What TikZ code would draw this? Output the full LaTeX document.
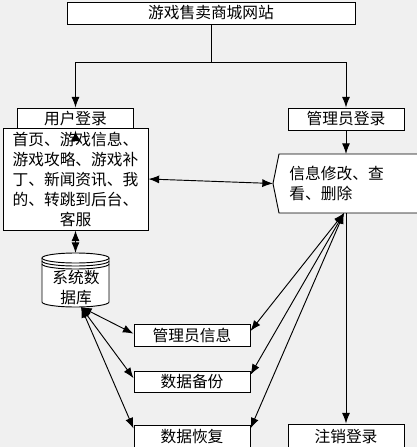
\documentclass[tikz,border=0pt]{standalone}
\usepackage{fontspec}
\setmainfont{Noto Sans CJK SC}
\usetikzlibrary{arrows.meta}
\definecolor{bggray}{RGB}{240,240,240}

\begin{document}
\begin{tikzpicture}
   [x=0.75pt,y=-0.75pt,line width=0.7pt,
   every node/.style={inner sep=0pt,font=\fontsize{11.8}{15}\selectfont},
   box/.style={draw,fill=white,minimum width=87pt,minimum height=16.5pt},
   arr/.style={-{Latex[length=8pt,width=6pt]}},
   darr/.style={{Latex[length=8pt,width=6pt]}-{Latex[length=8pt,width=6pt]}}]

   \fill[bggray] (0,0) rectangle (417,447);
   \useasboundingbox (0,0) rectangle (417,447);

   \node[box,minimum width=216pt] (site)   at (211,13)  {游戏售卖商城网站};
   \node[box]                     (ulogin) at (75.5,119) {用户登录};
   \node[box]                     (alogin) at (346,119) {管理员登录};

   \node[draw,fill=white,minimum width=108.75pt,minimum height=76.5pt,
         text width=96pt,align=center] (home) at (75.5,179)
         {首页、游戏信息、\\游戏攻略、游戏补\\丁、新闻资讯、我\\的、转跳到后台、\\客服};

   % info shape, open to the right
   \draw[fill=white] (440,154) -- (279,154) -- (273,183.5) -- (279,213) -- (440,213);
   \node[anchor=west,align=left] (info) at (289,183) {信息修改、查\\看、删除};
   \coordinate (infoL)  at (273,183.5);
   \coordinate (infoT)  at (346,154);
   \coordinate (infoB)  at (346,213);
   \coordinate (infoBL) at (344,213);

   % database
   \draw[fill=white] (42,258) -- (42,302)
      arc[start angle=180,end angle=0,x radius=33.5,y radius=5] -- (109,258);
   \draw[fill=white] (75.5,258) ellipse[x radius=33.5,y radius=5];
   \draw (42,261) arc[start angle=180,end angle=0,x radius=33.5,y radius=5];
   \draw (42,264) arc[start angle=180,end angle=0,x radius=33.5,y radius=5];
   \node[align=center] (db) at (76,288) {系统数\\据库};
   \coordinate (dbtop) at (75.5,253);
   \coordinate (dbbot) at (81,307);

   \node[box]                      (adinfo)  at (192,335)   {管理员信息};
   \node[box,minimum height=15.75pt] (backup) at (192,381.5) {数据备份};
   \node[box,minimum height=18pt]  (restore) at (192,437)   {数据恢复};
   \node[box,minimum height=18pt]  (logout)  at (346,436)   {注销登录};

   \coordinate (split) at (211,62);
   \draw (site.south) -- (split);
   \draw[arr] (split) -| (ulogin.north);
   \draw[arr] (split) -| (alogin.north);

   \draw[arr] ([yshift=-6pt]home.north) -- (ulogin.south);
   \draw[darr] (home.east) -- (infoL);
   \draw[darr] (home.south) -- (dbtop);
   \draw[arr] (alogin.south) -- (infoT);
   \draw[arr] (infoB) -- (logout.north);

   \draw[darr] (dbbot) -- ([yshift=1pt]adinfo.west);
   \draw[darr] (dbbot) -- ([yshift=2.5pt]backup.west);
   \draw[darr] (dbbot) -- ([yshift=-3pt]restore.north west);

   \draw[darr] (infoBL) -- ([yshift=3pt]adinfo.east);
   \draw[darr] (infoBL) -- ([yshift=5pt]backup.east);
   \draw[darr] (infoBL) -- ([yshift=-3pt]restore.north east);
\end{tikzpicture}
\end{document}
